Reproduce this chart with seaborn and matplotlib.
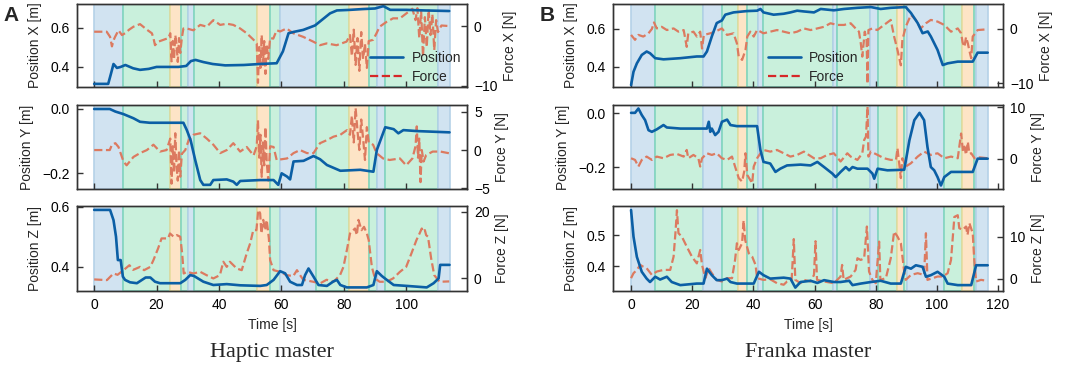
import seaborn as sns
import matplotlib.pyplot as plt
from matplotlib.lines import Line2D

# ---------------- A: Haptic master ----------------
hap_px_t = [0, 4.5, 5.3, 6.2, 7.3, 8.5, 10.0, 12.5, 14.7, 17.5, 20, 27, 29.5, 31, 32.5, 35, 38, 42, 48, 53,
            58.5, 60.5, 62.3, 64, 67, 70.8, 72.5, 75.6, 77.8, 82, 86, 90, 92.7, 94.9, 100, 106, 113.8]
hap_px = [0.313, 0.313, 0.36, 0.415, 0.395, 0.40, 0.41, 0.393, 0.385, 0.39, 0.40, 0.40, 0.405, 0.43, 0.436,
          0.425, 0.415, 0.408, 0.41, 0.415, 0.419, 0.48, 0.573, 0.58, 0.59, 0.613, 0.635, 0.675, 0.69, 0.693,
          0.697, 0.70, 0.712, 0.693, 0.693, 0.69, 0.687]

hap_fx_t = [0, 4.0, 5.1, 5.7, 6.2, 6.7, 7.8, 8.9, 9.9, 11.2, 12.6, 14.7, 16.9, 18.5, 19.0, 19.5, 20.6, 22.2,
            23.8, 24.4, 24.8, 25.2, 25.6, 26.0, 26.4, 26.8, 27.2, 27.6, 28.1, 28.6, 29.7, 31.8, 34.0, 36.1,
            38.2, 40.4, 42.5, 44.6, 46.8, 48.9, 51.1, 52.1, 52.5, 52.9, 53.3, 53.7, 54.1, 54.5, 54.9, 55.3,
            55.8, 56.4, 57.4, 58.5, 59.6, 61.7, 63.8, 67.0, 70.2, 72.4, 74.5, 77.7, 80.9, 82.0, 82.6, 83.2,
            83.8, 84.4, 85.0, 85.6, 86.2, 86.8, 87.4, 88.0, 89.4, 90.5, 91.5, 93.7, 95.8, 98.0, 100.0, 102.0,
            103.0, 103.6, 104.2, 104.8, 105.4, 106.0, 106.6, 107.2, 107.8, 108.4, 109.0, 109.6, 110.2, 111.3,
            114.0]
hap_fx = [-0.94, -0.94, -1.8, -3.4, -2.4, -1.8, -0.7, -1.5, -1.2, -0.6, -0.1, 0.33, -0.6, -1.2, -2.0, -3.2,
          -2.6, -2.3, -2.0, -1.2, -5.9, -2.5, -5.5, -1.5, -3.0, -6.0, -2.0, -4.5, -2.0, -0.4, -0.4, -0.7, 0.2,
          -0.1, 1.0, 0.2, 0.4, 0.2, -0.4, -1.2, -2.3, -2.9, -9.5, -3.5, -7.0, -1.5, -6.5, -2.5, -8.0, -3.0,
          -5.5, -2.0, -2.1, -0.7, -0.9, -0.4, -1.2, -1.8, -2.6, -3.2, -2.9, -3.2, -2.6, -1.5, -5.0, -0.6,
          -6.5, -2.0, -7.5, -1.0, -5.5, -3.0, -7.0, -2.5, -2.3, -1.2, -0.1, 0.7, 1.3, 1.3, 2.1, 2.9,
          1.0, 3.0, -2.0, 2.5, -5.1, 1.5, -3.5, 2.8, -1.5, 2.0, -4.0, 1.0, -1.0, 0.1,
          0.0]

hap_py_t = [0, 5, 6.8, 9.4, 12.6, 14.7, 17.8, 28.6, 29.7, 30.9, 32.4, 34.0, 35.0, 37.2, 38.2, 42.5, 44.6, 45.7,
            46.8, 53.2, 57.5, 59.0, 60.1, 61.8, 62.8, 63.9, 67.1, 70.3, 72.4, 74.6, 78.9, 85.3, 89.5, 90.6,
            93.3, 96.0, 97.5, 99.1, 103.4, 113.9]
hap_py = [0, 0, -0.008, -0.016, -0.029, -0.04, -0.043, -0.043, -0.066, -0.097, -0.16, -0.222, -0.237, -0.237,
          -0.222, -0.22, -0.227, -0.237, -0.225, -0.222, -0.222, -0.237, -0.201, -0.211, -0.22, -0.164,
          -0.162, -0.147, -0.157, -0.175, -0.193, -0.19, -0.196, -0.128, -0.057, -0.063, -0.076, -0.066,
          -0.069, -0.073]

hap_fy_t = [0, 5.0, 5.7, 6.8, 7.8, 9.4, 10.4, 12.6, 14.7, 16.9, 19.0, 21.1, 23.2, 24.4, 24.8, 25.2, 25.6,
            26.0, 26.4, 26.8, 27.2, 27.6, 28.1, 29.2, 30.3, 31.8, 34.0, 36.1, 38.2, 40.4, 42.5, 44.6, 46.8,
            48.9, 51.1, 52.1, 52.5, 52.9, 53.3, 53.7, 54.1, 54.5, 54.9, 55.3, 55.8, 56.4, 57.5, 58.5, 61.8,
            63.9, 66.0, 68.2, 70.3, 72.4, 74.6, 76.7, 78.9, 81.0, 82.0, 82.6, 83.2, 83.8, 84.4, 85.0, 85.6,
            86.2, 86.8, 87.4, 88.0, 89.4, 90.5, 92.6, 94.7, 98.0, 100.0, 102.0, 103.0, 103.4, 103.8, 104.2,
            104.6, 105.0, 105.6, 106.4, 108.5, 111.0, 114.0]
hap_fy = [0, 0, 0.7, 0.9, 0.4, -1.5, -2.0, -0.9, -0.4, 0.0, 0.7, -0.2, 0.0, 1.5, -4.4, 0.5, -3.0, 2.2, -2.0,
          -4.0, 0.0, -3.5, -0.5, 0.0, 1.3, 2.0, 2.2, 1.5, 0.7, -0.4, 0.0, 0.9, -0.2, 0.4, -0.7, 0.5, 3.9,
          -1.0, 2.0, -3.5, 1.0, -2.0, 3.0, -1.5, -4.0, 0.5, 0.4, -1.3, -1.1, -0.4, 0.0, -0.4, -0.4, 0.9, 1.3,
          1.75, 2.0, 2.6, 2.0, 4.5, 1.0, 5.5, 2.5, 0.0, 4.0, 1.5, -1.3, 3.0, 1.0, 0.7, -0.4, -1.1, -1.3,
          -1.1, -2.0, -1.1, 0.5, 3.1, -1.0, 1.5, -4.2, 0.0, -1.5, -0.66, -0.2, -0.2, -0.44]

hap_pz_t = [0, 5.1, 6.2, 7.0, 7.6, 8.5, 9.2, 9.9, 11.5, 13.7, 16.5, 18.0, 19.5, 21.1, 27.6, 29.2, 30.8, 32.0,
            35.0, 38.2, 42.5, 46.8, 53.2, 55.3, 57.5, 59.6, 61.2, 62.8, 65.0, 66.6, 67.6, 68.7, 70.3, 71.9,
            74.6, 76.7, 77.8, 78.9, 81.0, 87.4, 89.5, 90.6, 92.2, 93.8, 96.0, 100.2, 106.6, 108.8, 110.4,
            110.9, 113.9]
hap_pz = [0.59, 0.59, 0.556, 0.501, 0.423, 0.423, 0.368, 0.357, 0.349, 0.346, 0.365, 0.365, 0.351, 0.346,
          0.346, 0.357, 0.373, 0.37, 0.351, 0.34, 0.343, 0.339, 0.337, 0.34, 0.357, 0.386, 0.379, 0.351,
          0.34, 0.34, 0.373, 0.395, 0.368, 0.34, 0.337, 0.352, 0.357, 0.34, 0.332, 0.332, 0.34, 0.386, 0.37,
          0.357, 0.34, 0.337, 0.332, 0.346, 0.362, 0.407, 0.407]

hap_fz_t = [0, 4.1, 6.2, 7.5, 9.4, 11.3, 12.5, 13.5, 14.7, 16.0, 18.0, 19.0, 20.5, 21.6, 23.7, 24.3, 25.5,
            26.5, 27.6, 28.2, 28.7, 29.8, 31.8, 34.0, 36.0, 38.2, 40.3, 41.4, 42.5, 43.5, 45.7, 47.3, 48.9,
            50.0, 51.0, 52.0, 52.6, 53.2, 53.6, 54.2, 54.8, 55.3, 56.0, 56.4, 57.5, 59.6, 61.7, 63.8, 65.0,
            66.0, 67.0, 70.2, 72.4, 74.5, 76.7, 78.8, 79.9, 81.0, 82.0, 83.6, 84.2, 84.7, 85.7, 86.5, 87.4,
            88.0, 89.0, 90.0, 91.5, 93.7, 95.8, 98.0, 100.0, 101.7, 103.3, 104.3, 105.0, 105.4, 106.0, 106.4,
            107.0, 108.0, 109.0, 110.7, 113.8]
hap_fz = [-0.4, -0.6, 1.4, 1.0, 2.4, 3.9, 2.5, 2.9, 3.4, 2.4, 3.4, 5.45, 9.0, 12.0, 12.0, 13.5, 12.5, 13.0,
          12.5, 7.5, 1.4, 1.9, 1.4, 1.9, 0.9, -0.1, 0.9, 4.95, 3.4, 4.95, 2.9, 2.4, 7.5, 10.5, 14.5, 14.5,
          20.6, 19.6, 13.5, 17.6, 14.5, 17.6, 12.0, 5.45, 2.4, 1.9, 0.9, 0.6, 2.4, 0.9, -0.5, -1.1, -1.6,
          -0.5, -1.1, 0.9, 3.4, 8.5, 13.5, 15.0, 13.0, 17.6, 14.5, 15.5, 13.5, 11.5, 3.4, -0.1, -1.1, -1.1,
          -0.1, 1.9, 3.4, 7.5, 11.5, 13.5, 15.0, 14.0, 14.5, 13.0, 12.5, 6.0, 0.9, -1.1, -1.0]

# phases: b = blue, g = green, o = orange
hap_seg_start = [0, 9.4, 24.2, 27.9, 30.2, 32.0, 52.1, 56.4, 59.6, 71.2, 81.7, 88.1, 90.7, 93.3, 110.3]
hap_seg_end = [9.4, 24.2, 27.9, 30.2, 32.0, 52.1, 56.4, 59.6, 71.2, 81.7, 88.1, 90.7, 93.3, 110.3, 113.9]
hap_seg_kind = ['b', 'g', 'o', 'g', 'b', 'g', 'o', 'g', 'b', 'g', 'o', 'g', 'b', 'g', 'b']

# ---------------- B: Franka master ----------------
fra_px_t = [0, 0.8, 1.9, 3.5, 5.1, 6.2, 7.9, 10.6, 16.1, 21.5, 23.7, 24.8, 26.4, 28.0, 29.7, 30.8, 33.5, 37.9,
            41.2, 42.3, 43.3, 46.6, 49.9, 52.1, 54.3, 56.5, 59.8, 62.0, 66.3, 69.6, 74.0, 78.4, 81.6, 84.9,
            89.8, 91.5, 93.7, 95.3, 97.0, 98.0, 100.2, 101.9, 103.5, 106.8, 111.7, 113.3, 116.6]
fra_px = [0.305, 0.375, 0.419, 0.463, 0.481, 0.472, 0.446, 0.44, 0.446, 0.455, 0.455, 0.481, 0.56, 0.63,
          0.644, 0.674, 0.686, 0.693, 0.695, 0.704, 0.686, 0.674, 0.679, 0.686, 0.695, 0.691, 0.686, 0.704,
          0.697, 0.704, 0.71, 0.714, 0.704, 0.71, 0.714, 0.683, 0.63, 0.577, 0.586, 0.56, 0.489, 0.41, 0.419,
          0.428, 0.428, 0.475, 0.475]

fra_fx_t = [0, 1.3, 2.4, 4.0, 5.7, 6.8, 7.5, 8.4, 10.0, 11.7, 13.9, 15.5, 17.2, 18.2, 18.7, 20.4, 21.5, 22.6,
            23.2, 23.8, 25.9, 27.5, 29.7, 31.4, 33.5, 34.6, 35.2, 36.3, 37.4, 38.0, 39.0, 40.1, 41.2, 42.3,
            43.3, 45.5, 47.7, 49.9, 52.1, 54.3, 56.5, 58.7, 60.9, 63.1, 65.2, 67.4, 69.6, 71.8, 73.4, 74.5,
            75.1, 75.6, 76.4, 77.0, 77.3, 77.6, 78.9, 80.5, 82.7, 84.9, 86.0, 87.1, 88.2, 88.7, 89.8, 91.5,
            93.1, 94.7, 96.4, 98.0, 100.2, 102.4, 104.6, 106.8, 107.9, 108.4, 109.0, 109.5, 110.1, 110.6,
            111.2, 111.7, 113.3, 116.6]
fra_fx = [-1.1, -2.0, -1.1, -1.4, -0.8, 0.0, 1.2, 0.1, 0.4, -0.2, 0.1, -0.5, -0.2, -3.3, -0.8, -0.5, -1.4,
          -0.5, -3.6, -1.1, -0.8, -0.5, 0.1, -1.1, -0.8, -2.65, -5.1, -5.7, -3.9, -1.4, -0.5, -1.4, -0.2,
          -0.5, -0.8, -0.5, -0.2, -0.5, -0.8, -0.5, 0.1, -0.2, 0.1, 0.4, 1.05, 0.74, 0.74, 1.05, 0.1, -0.5,
          -2.65, -5.1, -0.5, -2.0, -10.1, -0.2, 0.1, -0.2, 0.74, 1.67, -1.4, -3.9, -6.7, -2.0, 0.4, 2.6,
          1.67, 0.1, 1.05, 1.67, 1.36, 0.74, -0.5, 0.1, -0.8, -2.5, -3.3, -1.5, -2.65, -4.0,
          -5.4, -1.4, -0.2, -0.06]

fra_py_t = [0, 1.3, 2.4, 3.5, 4.6, 5.7, 6.8, 8.4, 10.6, 11.7, 16.1, 24.8, 25.4, 25.9, 26.4, 27.5, 28.6, 29.7,
            31.4, 32.5, 34.6, 41.2, 42.3, 43.3, 45.5, 47.2, 48.8, 51.0, 55.4, 58.7, 60.9, 63.1, 65.8, 66.9,
            68.5, 70.2, 71.3, 72.4, 74.0, 77.3, 78.9, 79.5, 80.6, 83.8, 89.3, 91.0, 92.6, 94.3, 95.8, 96.9,
            98.0, 99.1, 100.2, 101.3, 102.4, 104.6, 107.9, 111.7, 113.3, 116.6]
fra_py = [0.001, 0.001, 0.017, -0.007, -0.026, -0.063, -0.069, -0.06, -0.044, -0.053, -0.057, -0.057, -0.032,
          -0.069, -0.057, -0.081, -0.069, -0.032, -0.024, -0.044, -0.048, -0.048, -0.137, -0.18, -0.186,
          -0.217, -0.205, -0.193, -0.19, -0.193, -0.18, -0.199, -0.223, -0.236, -0.217, -0.199, -0.211,
          -0.199, -0.205, -0.205, -0.223, -0.242, -0.205, -0.211, -0.209, -0.1, -0.026, 0.001, -0.026,
          -0.125, -0.199, -0.211, -0.236, -0.267, -0.236, -0.217, -0.217, -0.217, -0.168, -0.168]

fra_fy_t = [0, 1.3, 2.4, 3.5, 5.1, 6.8, 8.4, 10.6, 12.8, 15.0, 17.2, 18.2, 18.7, 20.4, 22.0, 22.6, 23.2, 24.8,
            26.4, 28.0, 29.7, 31.4, 33.0, 34.0, 35.2, 36.3, 37.0, 37.4, 38.0, 39.6, 40.1, 41.2, 42.3, 43.3,
            45.5, 47.7, 49.9, 52.1, 54.3, 56.5, 58.1, 59.8, 62.0, 64.1, 66.3, 68.5, 70.7, 71.8, 74.0, 75.6,
            76.2, 76.8, 77.3, 77.6, 78.4, 80.6, 82.7, 84.9, 86.6, 87.1, 88.2, 88.7, 89.8, 91.5, 93.7, 95.8,
            98.0, 100.2, 102.4, 104.6, 106.8, 107.9, 108.5, 109.0, 109.5, 110.1, 110.6, 111.2, 112.3, 113.9,
            116.6]
fra_fy = [0.13, -0.19, -1.47, -0.19, 0.45, -0.19, 0.45, 0.13, 0.77, 0.96, 0.45, 1.73, 0.13, 0.77, 0.13, -1.47,
          0.13, 1.09, 0.77, 1.09, 0.13, -0.19, 0.45, -1.47, -3.7, -4.36, -2.4, 1.09, -3.1, -4.7, -1.47, 0.13,
          1.09, 1.73, 1.41, 1.73, 1.09, 0.45, 0.77, 1.41, 0.77, 0.13, 0.13, 0.77, 1.09, -0.5, 1.09, 0.45,
          -0.19, 1.09, 3.65, 4.3, 10.1, 0.45, 1.41, 0.77, 0.13, -0.19, -0.19, 2.05, -3.7, 0.13, -1.47, -0.83,
          0.45, 1.41, 0.77, 1.09, 0.13, 0.45, 0.13, 4.9, 1.5, 2.37, 0.8, 3.3, 1.0, 1.09, 0.13, 0.3, 0.13]

fra_pz_t = [0, 0.8, 1.9, 3.5, 5.1, 6.2, 7.9, 9.5, 11.7, 13.3, 16.1, 21.5, 23.7, 24.8, 26.4, 28.0, 29.7, 31.4,
            32.5, 34.6, 40.1, 41.8, 43.3, 45.5, 49.9, 52.1, 53.7, 55.4, 58.7, 60.9, 63.1, 66.3, 68.5, 71.3,
            72.4, 75.1, 78.4, 81.6, 84.9, 88.2, 89.8, 91.5, 93.1, 95.3, 96.4, 98.0, 100.2, 102.4, 103.5,
            106.8, 111.2, 112.8, 116.6]
fra_pz = [0.581, 0.495, 0.43, 0.382, 0.36, 0.349, 0.366, 0.357, 0.366, 0.349, 0.339, 0.344, 0.344, 0.392,
          0.371, 0.355, 0.355, 0.36, 0.349, 0.344, 0.344, 0.382, 0.371, 0.36, 0.363, 0.36, 0.331, 0.349,
          0.353, 0.346, 0.355, 0.349, 0.349, 0.353, 0.339, 0.344, 0.349, 0.353, 0.344, 0.344, 0.398, 0.392,
          0.403, 0.398, 0.366, 0.371, 0.382, 0.366, 0.344, 0.339, 0.339, 0.403, 0.403]

fra_fz_t = [0, 0.8, 1.9, 3.0, 4.0, 5.1, 6.8, 8.4, 10.6, 12.8, 13.9, 14.5, 15.0, 15.5, 16.6, 18.2, 19.9, 21.5,
            22.6, 23.2, 24.3, 25.4, 26.4, 28.0, 29.7, 31.4, 33.0, 34.0, 34.6, 35.2, 36.3, 36.8, 37.3, 38.5,
            39.6, 40.7, 41.2, 43.3, 45.5, 47.7, 49.9, 51.0, 52.5, 53.2, 53.7, 55.4, 56.5, 58.7, 59.8, 60.3,
            60.8, 63.1, 66.3, 68.5, 69.0, 69.5, 71.8, 73.4, 74.0, 75.1, 76.2, 77.1, 77.8, 78.9, 80.0, 81.1,
            81.5, 83.3, 84.9, 86.0, 87.1, 88.2, 89.3, 89.8, 91.5, 93.7, 95.8, 96.4, 96.9, 98.6, 100.2, 101.9,
            103.5, 104.6, 105.7, 106.8, 107.3, 108.4, 109.5, 110.0, 110.6, 111.7, 112.2, 112.8, 114.4, 116.6]
fra_fz = [0.16, 1.35, 2.14, 3.33, 2.9, 2.54, 0.95, 1.75, 2.14, 2.14, 5.3, 10.9, 16.4, 10.9, 10.1, 7.7, 5.3,
          3.7, 6.9, 3.33, 0.16, 2.54, 1.35, -0.24, -0.63, 0.16, 0.16, 4.52, 8.5, 6.9, 8.5, 14.0, 9.3, 6.1,
          5.3, 3.33, 0.16, -0.24, -0.1, -1.03, -1.4, -0.63, -0.24, 9.5, -0.24, -1.03, -0.24, -0.63, 0.95,
          9.0, -0.24, -0.63, -1.03, 0.56, 3.33, -0.24, 0.56, 2.14, 4.92, 4.52, 4.92, 12.5, 1.75, -0.24,
          -1.03, 8.9, -0.24, 0.16, 4.92, 11.3, 10.1, 8.5, 1.75, -0.24, 0.95, 1.35, 0.95, 10.9, -0.24, 0.16,
          0.56, 0.56, 1.35, 4.52, 14.8, 15.2, 12.1, 11.7, 12.5, 10.5, 13.3, 10.9, 4.52, -0.63, -0.24, -0.48]

fra_seg_start = [0, 7.9, 23.6, 29.8, 34.8, 38.0, 41.6, 43.0, 65.9, 67.2, 78.0, 80.6, 86.9, 89.2, 90.2, 102.3,
                 108.2, 112.1, 112.8]
fra_seg_end = [7.9, 23.6, 29.8, 34.8, 38.0, 41.6, 43.0, 65.9, 67.2, 78.0, 80.6, 86.9, 89.2, 90.2, 102.3,
               108.2, 112.1, 112.8, 116.6]
fra_seg_kind = ['b', 'g', 'b', 'g', 'o', 'g', 'b', 'g', 'b', 'g', 'b', 'g', 'o', 'g', 'b', 'g', 'o', 'g', 'b']

# ---------------- style ----------------
sns.set_theme(style='white')
plt.rcParams['font.family'] = ['Liberation Sans', 'DejaVu Sans']
plt.rcParams['axes.edgecolor'] = '#333333'
plt.rcParams['axes.linewidth'] = 1.0

POS_C = '#0b5fa5'
FORCE_C = '#dc7a60'
SPAN_FC = {'b': '#d1e3f1', 'g': '#c9f0dc', 'o': '#fde4c6'}
SPAN_EC = {'b': '#b5d2e8', 'g': '#80d5be', 'o': '#e6dc9e'}

fig = plt.figure(figsize=(10.65, 3.68), dpi=100)

rows_y = [(0.7636, 0.2255), (0.4864, 0.2283), (0.2092, 0.2310)]
panels = [
    dict(x0=0.0723, xlim=(-5.5, 119.5), xt=[0, 20, 40, 60, 80, 100],
         seg=(hap_seg_start, hap_seg_end, hap_seg_kind),
         rows=[(hap_px_t, hap_px, hap_fx_t, hap_fx, (0.297, 0.723), (-10.2, 3.7), [0.4, 0.6], [-10, 0], 'X'),
               (hap_py_t, hap_py, hap_fy_t, hap_fy, (-0.25, 0.0125), (-5.1, 5.9), [-0.2, 0.0], [-5, 0, 5], 'Y'),
               (hap_pz_t, hap_pz, hap_fz_t, hap_fz, (0.32, 0.603), (-3.9, 21.8), [0.4, 0.6], [0, 20], 'Z')],
         leg_x=0.985, title='Haptic master', letter='A'),
    dict(x0=0.5756, xlim=(-5.9, 121.6), xt=[0, 20, 40, 60, 80, 100, 120],
         seg=(fra_seg_start, fra_seg_end, fra_seg_kind),
         rows=[(fra_px_t, fra_px, fra_fx_t, fra_fx, (0.295, 0.73), (-10.7, 4.6), [0.4, 0.6], [-10, 0], 'X'),
               (fra_py_t, fra_py, fra_fy_t, fra_fy, (-0.28, 0.03), (-5.8, 10.4), [-0.2, 0.0], [0, 10], 'Y'),
               (fra_pz_t, fra_pz, fra_fz_t, fra_fz, (0.32, 0.594), (-2.9, 17.4), [0.4, 0.5], [0, 10], 'Z')],
         leg_x=0.63, title='Franka master', letter='B'),
]

for p in panels:
    for i, (pt, pv, ft, fv, ylp, ylf, ytp, ytf, axn) in enumerate(p['rows']):
        y0, h = rows_y[i]
        ax = fig.add_axes([p['x0'], y0, 0.3662, h])
        axf = ax.twinx()
        ax.set_zorder(axf.get_zorder() + 1)
        ax.patch.set_visible(False)
        for a, b, k in zip(*p['seg']):
            axf.axvspan(a, b, facecolor=SPAN_FC[k], edgecolor=SPAN_EC[k], lw=1.2, zorder=0)
        sns.lineplot(x=ft, y=fv, ax=axf, color=FORCE_C, linestyle='--', lw=1.6,
                     estimator=None, sort=False)
        sns.lineplot(x=pt, y=pv, ax=ax, color=POS_C, lw=1.9, estimator=None, sort=False)
        ax.set_xlim(*p['xlim'])
        ax.set_ylim(*ylp)
        axf.set_ylim(*ylf)
        ax.set_xticks(p['xt'])
        ax.set_yticks(ytp)
        axf.set_yticks(ytf)
        ax.set_ylabel(f'Position {axn} [m]', fontsize=10, labelpad=6)
        axf.set_ylabel(f'Force {axn} [N]', fontsize=10, labelpad=4)
        ax.tick_params(axis='both', direction='in', length=4, width=1, labelsize=10, pad=5,
                       left=True, bottom=True, colors='#333333', labelcolor='black')
        axf.tick_params(axis='y', direction='in', length=4, width=1, labelsize=10, pad=5,
                        right=True, colors='#333333', labelcolor='black')
        for sp in list(ax.spines.values()) + list(axf.spines.values()):
            sp.set_color('#333333')
        if i < 2:
            ax.tick_params(labelbottom=False)
        else:
            ax.set_xlabel('Time [s]', fontsize=10, labelpad=4)
        if i == 0:
            handles = [Line2D([], [], color=POS_C, lw=1.9),
                       Line2D([], [], color='#d62728', lw=1.6, linestyle='--')]
            ax.legend(handles, ['Position', 'Force'], loc='lower right', frameon=False,
                      bbox_to_anchor=(p['leg_x'], 0.04), fontsize=10, handlelength=2.4,
                      handletextpad=0.6, labelspacing=0.35, borderpad=0, borderaxespad=0)
    cx = p['x0'] + 0.3662 / 2
    fig.text(cx, 0.043, p['title'], ha='center', va='center', fontsize=16, family='Liberation Serif')
    fig.text(p['x0'] - 0.069, 0.985, p['letter'], ha='left', va='top', fontsize=15, fontweight='bold')

fig.savefig('out.png', dpi=100)
